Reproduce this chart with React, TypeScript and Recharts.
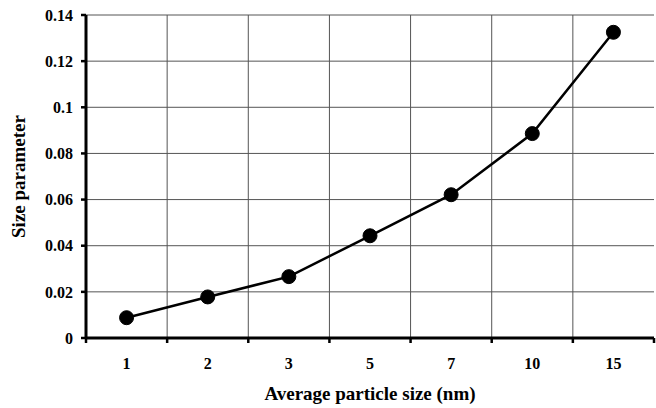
import React from "react";
import { LineChart, Line, XAxis, YAxis, CartesianGrid, ReferenceLine, Label } from "recharts";

const categories = ["1", "2", "3", "5", "7", "10", "15"];
const sizeParameter = [0.0088, 0.0178, 0.0266, 0.0443, 0.0621, 0.0886, 0.1325];
const yTicks = [0, 0.02, 0.04, 0.06, 0.08, 0.1, 0.12, 0.14];

const data = categories.map((c, i) => ({ size: c, value: sizeParameter[i] }));

const FONT = "'Liberation Serif', 'Times New Roman', serif";

const XTick = (props: any) => {
  const { x, y, payload, index } = props;
  const off = payload && typeof payload.offset === "number" ? payload.offset : 0;
  const last = index === categories.length - 1;
  return (
    <g>
      <line x1={x - off} x2={x - off} y1={y - 5} y2={y} stroke="#000" strokeWidth={2.5} />
      {last && <line x1={x + off} x2={x + off} y1={y - 5} y2={y} stroke="#000" strokeWidth={2.5} />}
      <text x={x} y={y + 26} textAnchor="middle" fontFamily={FONT} fontWeight="bold" fontSize={16} fill="#000">
        {payload.value}
      </text>
    </g>
  );
};

export default function App() {
  return (
    <div style={{ position: "absolute", left: 0, top: 0 }}>
      <LineChart width={656} height={408} data={data} margin={{ top: 15, right: 2, left: 0, bottom: 6 }}>
        <CartesianGrid vertical={false} stroke="#555" strokeWidth={1} />
        {categories.slice(1).map((c) => (
          <ReferenceLine key={c} x={c} position="start" stroke="#555" strokeWidth={1} />
        ))}
        <XAxis
          dataKey="size"
          scale="band"
          height={64}
          tickLine={false}
          tickSize={5}
          tickMargin={0}
          tick={<XTick />}
          axisLine={{ stroke: "#000", strokeWidth: 3 }}
          interval={0}
        >
          <Label
            value="Average particle size (nm)"
            position="insideBottom"
            offset={2}
            style={{ fontFamily: FONT, fontWeight: "bold", fontSize: 19, fill: "#000" }}
          />
        </XAxis>
        <XAxis xAxisId="top" orientation="top" dataKey="size" scale="band" height={0} tick={false} tickLine={false} axisLine={{ stroke: "#000", strokeWidth: 3 }} />
        <YAxis
          domain={[0, 0.14]}
          ticks={yTicks}
          width={86}
          tickSize={5}
          tickMargin={8}
          tickLine={{ stroke: "#000", strokeWidth: 2.5 }}
          axisLine={{ stroke: "#000", strokeWidth: 3 }}
          tick={{ fontFamily: FONT, fontWeight: "bold", fontSize: 16, fill: "#000" }}
          interval={0}
        >
          <Label
            value="Size parameter"
            angle={-90}
            position="insideLeft"
            offset={18}
            style={{ fontFamily: FONT, fontWeight: "bold", fontSize: 19, fill: "#000", textAnchor: "middle" }}
          />
        </YAxis>
        <YAxis yAxisId="right" orientation="right" width={0} tick={false} tickLine={false} axisLine={{ stroke: "#000", strokeWidth: 3 }} />
        <Line
          type="linear"
          dataKey="value"
          stroke="#000"
          strokeWidth={2.5}
          dot={{ r: 7, fill: "#000", stroke: "#000", strokeWidth: 1 }}
          isAnimationActive={false}
        />
      </LineChart>
    </div>
  );
}
